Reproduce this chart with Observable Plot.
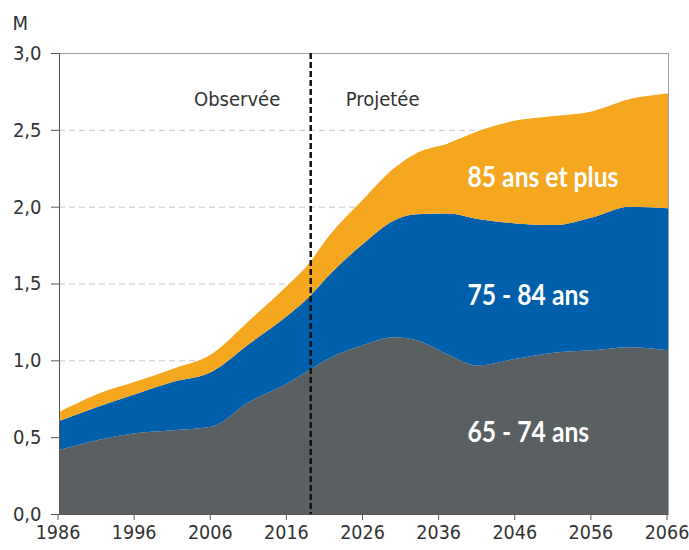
<!DOCTYPE html>
<html>
<head>
<meta charset="utf-8">
<script src="https://cdn.jsdelivr.net/npm/d3@7"></script>
<script src="https://cdn.jsdelivr.net/npm/@observablehq/plot@0.6"></script>
<style>
  html, body { margin: 0; padding: 0; background: #fff; }
  #chart svg { display: block; }
  #chart svg text { font-stretch: condensed; }
</style>
</head>
<body>
<div id="chart"></div>
<script>
// Years of the series
const years = [1986, 1991, 1996, 2001, 2006, 2011, 2016, 2019, 2021, 2026, 2030, 2033, 2037, 2041, 2046, 2051, 2056, 2061, 2066];
// Cumulative tops (millions)
const age65_74 = [0.416, 0.48, 0.526, 0.545, 0.567, 0.73, 0.85, 0.94, 1.0, 1.10, 1.15, 1.13, 1.04, 0.967, 1.01, 1.05, 1.065, 1.085, 1.065];
const top75_84 = [0.606, 0.697, 0.78, 0.86, 0.924, 1.108, 1.29, 1.42, 1.53, 1.76, 1.91, 1.95, 1.955, 1.92, 1.89, 1.88, 1.93, 2.0, 1.99];
const top85plus = [0.664, 0.78, 0.86, 0.946, 1.04, 1.26, 1.487, 1.64, 1.78, 2.05, 2.25, 2.35, 2.41, 2.49, 2.56, 2.59, 2.62, 2.70, 2.736];

const seriesNames = ["65 - 74 ans", "75 - 84 ans", "85 ans et plus"];
const seriesColors = ["#5a5f62", "#005fab", "#f5a71f"];
const xTicks = [1986, 1996, 2006, 2016, 2026, 2036, 2046, 2056, 2066];
const yTicks = [0, 0.5, 1.0, 1.5, 2.0, 2.5, 3.0];
const gridTicks = [0.5, 1.0, 1.5, 2.0, 2.5];
const splitYear = [2019];
const observedLabel = ["Observée"];
const projectedLabel = ["Projetée"];
const observedYear = 2015;
const projectedYear = 2023.6;
const periodValue = 2.70;
const labelYear = 2039.6;
const labelValues = [0.472, 1.362, 2.128];

// Build the stacked table (series components)
const table = [];
const comps = [
  age65_74,
  top75_84.map((v, i) => v - age65_74[i]),
  top85plus.map((v, i) => v - top75_84[i])
];
seriesNames.forEach((s, k) => {
  years.forEach((y, i) => table.push({year: y, value: comps[k][i], serie: s}));
});

const chart = Plot.plot({
  width: 689,
  height: 550,
  marginLeft: 59,
  marginRight: 21,
  marginTop: 53,
  marginBottom: 36,
  style: {fontFamily: "'DejaVu Sans', sans-serif", fontSize: "20px", color: "#333", background: "#fff"},
  x: {domain: [1986, 2066], label: null},
  y: {domain: [0, 3], label: null},
  color: {domain: seriesNames, range: seriesColors},
  marks: [
    Plot.gridY(gridTicks, {stroke: "#c8c8c8", strokeOpacity: 1, strokeDasharray: "6,4"}),
    Plot.areaY(table, Plot.stackY({order: null}, {x: "year", y: "value", fill: "serie", curve: "monotone-x"})),
    Plot.frame({stroke: "#a0a0a0"}),
    Plot.axisX({ticks: xTicks, tickFormat: d => String(d), tickSize: 6, tickPadding: 5, dx: -1.5, fontSize: 19.5, stroke: "#555", label: null}),
    Plot.axisY({ticks: yTicks, tickFormat: d => d.toFixed(1).replace(".", ","), tickSize: 8, tickPadding: 10, fontSize: 20, stroke: "#555", label: null}),
    Plot.ruleY([0], {stroke: "#555"}),
    Plot.ruleX([1986], {stroke: "#555"}),
    Plot.ruleX(splitYear, {stroke: "#111", strokeWidth: 2.5, strokeDasharray: "6,3"}),
    Plot.text(observedLabel, {x: () => observedYear, y: () => periodValue, text: d => d, textAnchor: "end", fill: "#333", fontSize: 20}),
    Plot.text(projectedLabel, {x: () => projectedYear, y: () => periodValue, text: d => d, textAnchor: "start", fill: "#333", fontSize: 20}),
    Plot.text(seriesNames, {x: () => labelYear, y: (d, i) => labelValues[i], text: d => d,
      textAnchor: "start", fill: "#fff", fontSize: 29, fontWeight: "bold", fontFamily: "Lato, 'DejaVu Sans', sans-serif"}),
    Plot.text(["M"], {frameAnchor: "top-left", dx: -47, dy: -38, text: d => d, fill: "#333", fontSize: 20})
  ]
});
document.getElementById("chart").appendChild(chart);

// Compress the bold series labels horizontally to mimic a condensed bold face
const labelTexts = Array.from(chart.querySelectorAll("text")).filter(t => seriesNames.includes(t.textContent));
const ref = labelTexts.find(t => t.textContent === "85 ans et plus");
const k = ref ? Math.min(1, 151 / ref.getComputedTextLength()) : 0.78;
labelTexts.forEach(t => {
  const x = +t.getAttribute("x") || 0;
  const y = +t.getAttribute("y") || 0;
  const prev = t.getAttribute("transform") || "";
  t.setAttribute("x", 0);
  t.setAttribute("y", 0);
  t.setAttribute("transform", `${prev} translate(${x},${y}) scale(${k},1)`);
  t.style.fontStretch = "normal";
});
</script>
</body>
</html>
